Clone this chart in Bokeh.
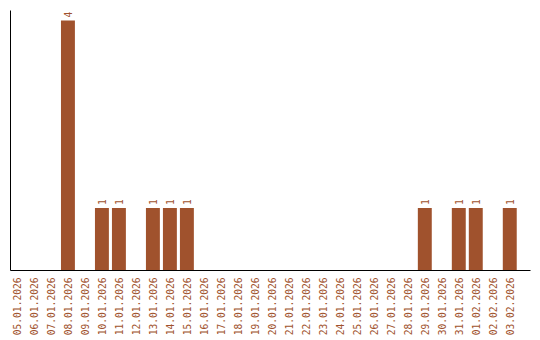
from bokeh.plotting import figure
from bokeh.models import Range1d, FixedTicker, ColumnDataSource
from bokeh.core.properties import value
from bokeh.embed import file_html
from bokeh.resources import INLINE
import math

dates = ["05.01.2026", "06.01.2026", "07.01.2026", "08.01.2026", "09.01.2026",
         "10.01.2026", "11.01.2026", "12.01.2026", "13.01.2026", "14.01.2026",
         "15.01.2026", "16.01.2026", "17.01.2026", "18.01.2026", "19.01.2026",
         "20.01.2026", "21.01.2026", "22.01.2026", "23.01.2026", "24.01.2026",
         "25.01.2026", "26.01.2026", "27.01.2026", "28.01.2026", "29.01.2026",
         "30.01.2026", "31.01.2026", "01.02.2026", "02.02.2026", "03.02.2026"]
counts = [0, 0, 0, 4, 0, 1, 1, 0, 1, 1, 1, 0, 0, 0, 0,
          0, 0, 0, 0, 0, 0, 0, 0, 0, 1, 0, 1, 1, 0, 1]

COLOR = "#A0522D"
FONT = "DejaVu Sans Mono"

idx = list(range(len(dates)))
nz = [i for i in idx if counts[i] > 0]
src = ColumnDataSource(dict(x=nz, top=[counts[i] for i in nz],
                            label=[str(counts[i]) for i in nz]))

p = figure(frame_width=520, frame_height=260, output_backend="svg",
           toolbar_location=None,
           x_range=Range1d(-0.38, 30.22), y_range=Range1d(0, 4.16),
           min_border_left=10, min_border_right=9, min_border_top=10,
           min_border_bottom=0)
p.outline_line_color = None
p.xgrid.grid_line_color = None
p.ygrid.grid_line_color = None

p.vbar(x="x", top="top", bottom=0, width=0.82, source=src,
       fill_color=COLOR, line_color=None)
p.text(x="x", y="top", text="label", source=src, angle=math.pi / 2,
       text_align="left", text_baseline="middle", y_offset=-3,
       text_color=COLOR, text_font=value(FONT), text_font_size="9.6px")

xa = p.xaxis[0]
xa.ticker = FixedTicker(ticks=idx)
xa.major_label_overrides = {i: d for i, d in zip(idx, dates)}
xa.major_label_orientation = math.pi / 2
xa.major_tick_in = 0
xa.major_tick_out = 0
xa.minor_tick_in = 0
xa.minor_tick_out = 0
xa.major_label_standoff = 7
xa.major_label_text_color = COLOR
xa.major_label_text_font = FONT
xa.major_label_text_font_size = "9.6px"
xa.axis_line_color = "black"
xa.axis_line_width = 1

ya = p.yaxis[0]
ya.ticker = FixedTicker(ticks=[])
ya.major_tick_in = 0
ya.major_tick_out = 0
ya.minor_tick_in = 0
ya.minor_tick_out = 0
ya.major_label_text_font_size = "0px"
ya.major_label_standoff = 0
ya.axis_line_color = "black"
ya.axis_line_width = 1

open("out.html", "w").write(file_html(p, INLINE))
